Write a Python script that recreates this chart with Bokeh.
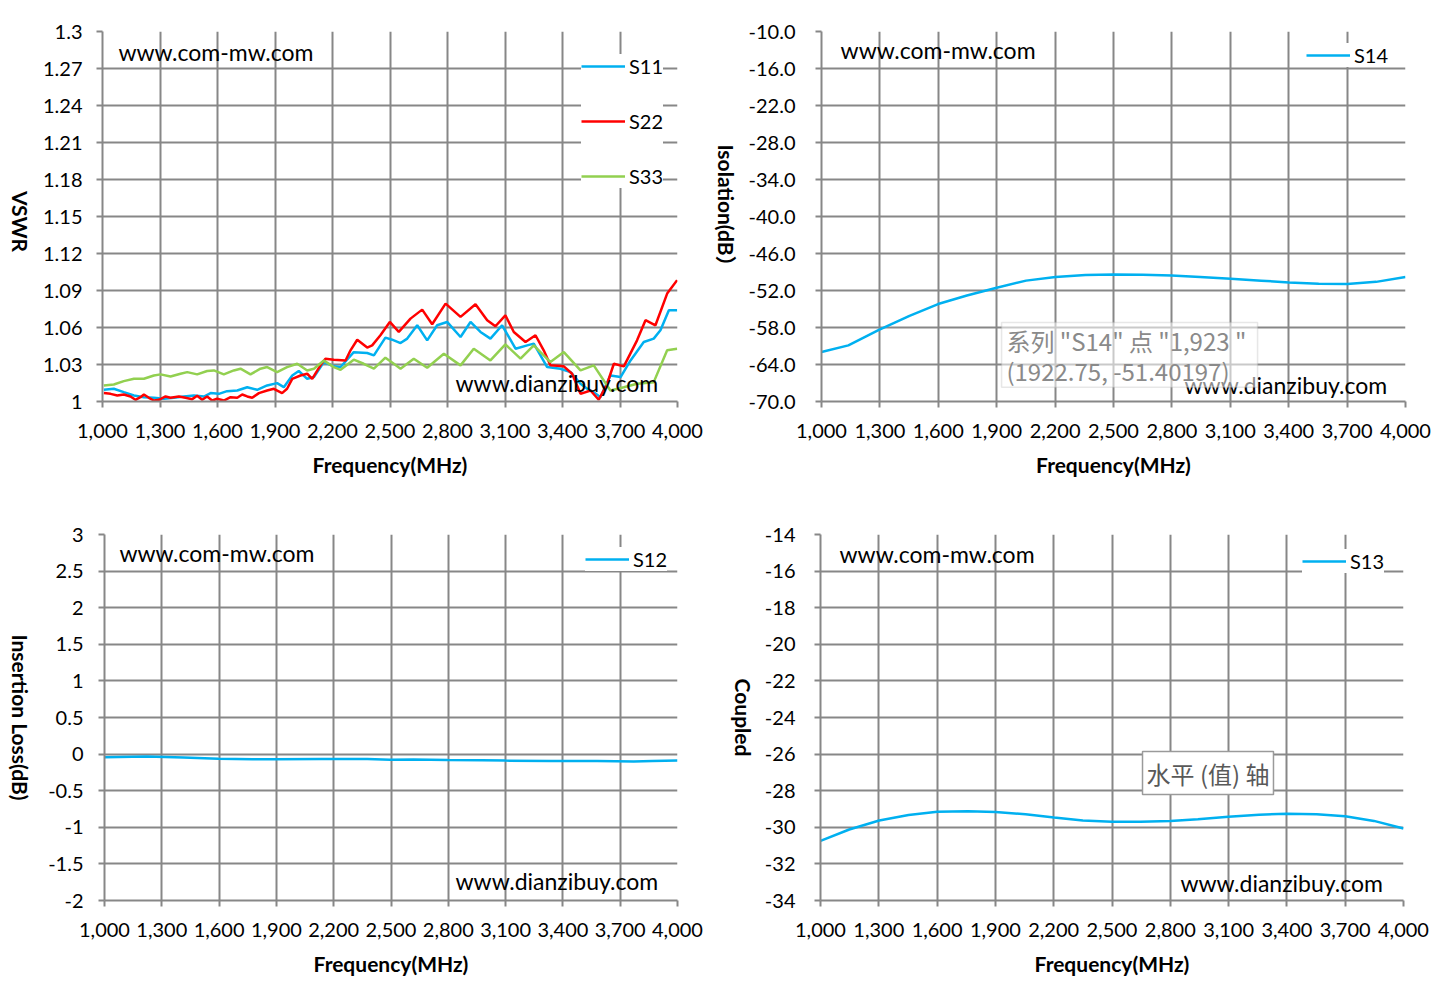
import math
from bokeh.plotting import figure
from bokeh.models import (FixedTicker, NumeralTickFormatter, PrintfTickFormatter,
                          Legend, LegendItem, Label, Range1d, BoxAnnotation)
from bokeh.layouts import column, row
from bokeh.embed import file_html
from bokeh.resources import INLINE

# ---------------- data ----------------
x_ticks = [1000, 1300, 1600, 1900, 2200, 2500, 2800, 3100, 3400, 3700, 4000]

s11_freq = [1007, 1059, 1111, 1164, 1216, 1268, 1320, 1372, 1424, 1477, 1529, 1564, 1607, 1650, 1703,
            1755, 1807, 1859, 1911, 1946, 1990, 2024, 2068, 2103, 2155, 2207, 2242, 2311, 2381, 2416,
            2476, 2511, 2555, 2590, 2642, 2694, 2746, 2798, 2868, 2920, 2972, 3024, 3085, 3155, 3216,
            3250, 3320, 3389, 3442, 3494, 3529, 3563, 3598, 3650, 3703, 3755, 3824, 3876, 3911, 3955, 3998]
s11_vswr = [1.0095, 1.0103, 1.0076, 1.0049, 1.0035, 1.003, 1.0022, 1.003, 1.004, 1.0049, 1.004, 1.0068,
            1.0062, 1.0084, 1.0089, 1.0116, 1.0095, 1.013, 1.0149, 1.0116, 1.0211, 1.0247, 1.0184, 1.0198,
            1.032, 1.0285, 1.028, 1.040, 1.0393, 1.0374, 1.0518, 1.0501, 1.0474, 1.051, 1.0618, 1.0496,
            1.0618, 1.0645, 1.0523, 1.0645, 1.0564, 1.051, 1.0618, 1.0428, 1.0455, 1.0469, 1.0279, 1.0266,
            1.0238, 1.0144, 1.0103, 1.0076, 1.0035, 1.0211, 1.0198, 1.0333, 1.0482, 1.051, 1.0577, 1.074, 1.074]

s22_freq = [1007, 1042, 1077, 1111, 1146, 1172, 1198, 1216, 1242, 1268, 1294, 1329, 1355, 1398, 1433,
            1468, 1494, 1520, 1546, 1572, 1598, 1633, 1668, 1703, 1729, 1755, 1781, 1816, 1859, 1894,
            1937, 1963, 1990, 2033, 2068, 2094, 2137, 2163, 2207, 2268, 2294, 2329, 2381, 2407, 2450,
            2499, 2546, 2607, 2668, 2720, 2790, 2868, 2946, 3007, 3050, 3102, 3146, 3207, 3259, 3302,
            3337, 3407, 3450, 3494, 3546, 3589, 3633, 3668, 3720, 3789, 3833, 3885, 3946, 3998]
s22_vswr = [1.0068, 1.0062, 1.0049, 1.0057, 1.0041, 1.0014, 1.0035, 1.0057, 1.003, 1.0008, 1.0014, 1.0041,
            1.003, 1.0041, 1.003, 1.0019, 1.0046, 1.0014, 1.0041, 1.0008, 1.0022, 1.0008, 1.0035, 1.003,
            1.0057, 1.0041, 1.003, 1.0068, 1.0089, 1.0103, 1.0068, 1.0103, 1.0184, 1.0211, 1.0225, 1.0184,
            1.0293, 1.0347, 1.0339, 1.0333, 1.0415, 1.0501, 1.0437, 1.0455, 1.0537, 1.0645, 1.0564, 1.0672,
            1.0745, 1.0626, 1.0794, 1.0686, 1.0789, 1.0659, 1.061, 1.0699, 1.0564, 1.0482, 1.0537, 1.0415,
            1.0293, 1.0285, 1.0225, 1.0062, 1.0089, 1.0014, 1.0144, 1.0306, 1.0285, 1.0496, 1.0659, 1.0618,
            1.0875, 1.0984]

s33_freq = [1007, 1059, 1111, 1164, 1216, 1268, 1303, 1355, 1407, 1442, 1494, 1546, 1581, 1633, 1685,
            1720, 1772, 1824, 1859, 1911, 1963, 2016, 2068, 2103, 2155, 2207, 2242, 2311, 2363, 2416,
            2476, 2520, 2555, 2624, 2694, 2781, 2868, 2937, 3024, 3102, 3181, 3250, 3337, 3407, 3494,
            3563, 3650, 3720, 3789, 3876, 3946, 3998]
s33_vswr = [1.013, 1.0138, 1.0165, 1.0184, 1.0184, 1.0211, 1.022, 1.0203, 1.0225, 1.0238, 1.022, 1.0247,
            1.0252, 1.022, 1.0252, 1.0266, 1.022, 1.0266, 1.0279, 1.0238, 1.0279, 1.0306, 1.0252, 1.0266,
            1.0333, 1.0279, 1.0257, 1.0339, 1.0306, 1.0266, 1.0355, 1.0306, 1.0266, 1.0347, 1.0274, 1.0387,
            1.0293, 1.0428, 1.0333, 1.0463, 1.0347, 1.0455, 1.032, 1.0401, 1.0252, 1.0293, 1.0089, 1.0116,
            1.0144, 1.0157, 1.0415, 1.0428]

s14_freq = [1000, 1138, 1295, 1452, 1599, 1747, 1900, 2051, 2202, 2356, 2499, 2650, 2798, 2945, 3102,
            3259, 3401, 3554, 3701, 3849, 4000]
s14_db = [-61.98, -60.9, -58.4, -56.1, -54.2, -52.8, -51.55, -50.4, -49.8, -49.5, -49.4, -49.45, -49.55,
          -49.8, -50.1, -50.4, -50.7, -50.9, -50.96, -50.6, -49.8]

s12_freq = [1000, 1221, 1414, 1597, 1775, 1895, 2135, 2376, 2496, 2617, 2797, 2977, 3098, 3338, 3579,
            3771, 3868, 4000]
s12_db = [-0.044, -0.033, -0.048, -0.063, -0.07, -0.07, -0.067, -0.067, -0.078, -0.074, -0.081, -0.085,
          -0.089, -0.093, -0.093, -0.1, -0.093, -0.089]

s13_freq = [1000, 1148, 1302, 1453, 1601, 1759, 1901, 2055, 2202, 2350, 2500, 2646, 2800, 2942, 3099,
            3257, 3399, 3553, 3700, 3848, 4000]
s13_db = [-30.74, -30.12, -29.63, -29.33, -29.15, -29.12, -29.17, -29.29, -29.47, -29.63, -29.70, -29.70,
          -29.65, -29.56, -29.43, -29.31, -29.26, -29.29, -29.40, -29.65, -30.07]

vswr_ticks = [1.0, 1.03, 1.06, 1.09, 1.12, 1.15, 1.18, 1.21, 1.24, 1.27, 1.3]
iso_ticks = [-70.0, -64.0, -58.0, -52.0, -46.0, -40.0, -34.0, -28.0, -22.0, -16.0, -10.0]
il_ticks = [-2, -1.5, -1, -0.5, 0, 0.5, 1, 1.5, 2, 2.5, 3]
cpl_ticks = [-34, -32, -30, -28, -26, -24, -22, -20, -18, -16, -14]

BLUE = "#00B0F0"
RED = "#FF0000"
GREEN = "#92D050"
GRID = "#878787"
FONT = "Lato"


def make_fig(fw, fh, bl, br, bt, bb, yticks, yfmt, ystandoff):
    p = figure(frame_width=fw, frame_height=fh, min_border_left=bl, min_border_right=br,
               min_border_top=bt, min_border_bottom=bb,
               x_range=Range1d(x_ticks[0], x_ticks[-1]), y_range=Range1d(yticks[0], yticks[-1]),
               output_backend="svg", toolbar_location=None)
    p.outline_line_color = None
    p.background_fill_color = "white"
    p.border_fill_color = "white"
    for ax in (p.xaxis[0], p.yaxis[0]):
        ax.axis_line_color = GRID
        ax.axis_line_width = 2
        ax.major_tick_line_color = GRID
        ax.major_tick_line_width = 2
        ax.major_tick_out = 6
        ax.major_tick_in = 0
        ax.minor_tick_line_color = None
        ax.major_label_text_font = FONT
        ax.major_label_text_font_size = "20px"
        ax.major_label_text_color = "#000000"
        ax.axis_label_text_font = FONT
        ax.axis_label_text_font_size = "21px"
        ax.axis_label_text_font_style = "bold"
        ax.axis_label_text_color = "#000000"
    p.xaxis.ticker = FixedTicker(ticks=x_ticks)
    p.xaxis.formatter = NumeralTickFormatter(format="0,0")
    p.xaxis.axis_label = "Frequency(MHz)"
    p.xaxis.major_label_standoff = 16
    p.xaxis.axis_label_standoff = 11
    p.yaxis.ticker = FixedTicker(ticks=yticks)
    p.yaxis.formatter = PrintfTickFormatter(format=yfmt)
    p.yaxis.major_label_standoff = ystandoff
    p.xgrid.ticker = FixedTicker(ticks=x_ticks)
    p.ygrid.ticker = FixedTicker(ticks=yticks)
    for g in (p.xgrid[0], p.ygrid[0]):
        g.grid_line_color = GRID
        g.grid_line_width = 2
    return p


def title_strip(w, fh, bt, bb, x, y, txt):
    # narrow strip that carries a vertical axis title reading top-to-bottom
    t = figure(frame_width=w, frame_height=fh, min_border_left=0, min_border_right=0,
               min_border_top=bt, min_border_bottom=bb,
               x_range=Range1d(0, w), y_range=Range1d(0, fh),
               x_axis_location=None, y_axis_location=None,
               output_backend="svg", toolbar_location=None)
    t.outline_line_color = None
    t.grid.visible = False
    t.border_fill_color = "white"
    t.add_layout(Label(x=x, y=y, text=txt, angle=-math.pi / 2,
                       text_font=FONT + ", 'Noto Sans CJK SC'", text_font_size="21px",
                       text_font_style="bold", text_color="#000000",
                       text_align="center", text_baseline="middle"))
    return t


def add_legend(p, items, loc, spacing):
    leg = Legend(items=items, location=loc, margin=0, padding=0, spacing=spacing,
                 glyph_width=44, glyph_height=20, label_height=20, label_standoff=4,
                 label_text_font=FONT, label_text_font_size="20px", label_text_color="#000000",
                 border_line_color=None, background_fill_color="white", background_fill_alpha=1.0)
    p.add_layout(leg)


def add_text(p, x, y, txt):
    p.add_layout(Label(x=x, y=y, text=txt, text_font=FONT, text_font_size="23px",
                       text_baseline="middle", text_align="left", text_color="#000000"))


# ---------------- top-left: VSWR ----------------
t1 = title_strip(38, 370, 31, 97, 20, 180, "VSWR")
p1 = make_fig(575, 370, 64, 26, 31, 97, vswr_ticks, "%g", 14)
r11 = p1.line(s11_freq, s11_vswr, line_color=BLUE, line_width=2.5)
r22 = p1.line(s22_freq, s22_vswr, line_color=RED, line_width=2.5)
r33 = p1.line(s33_freq, s33_vswr, line_color=GREEN, line_width=2.5)
add_legend(p1, [LegendItem(label="S11", renderers=[r11]), LegendItem(label="S22", renderers=[r22]),
                LegendItem(label="S33", renderers=[r33])], (479, 213), 31)
add_text(p1, 1083, 1.2837, "www.com-mw.com")
add_text(p1, 2842, 1.0146, "www.dianzibuy.com")

# ---------------- top-right: Isolation ----------------
t2 = title_strip(42, 370, 31, 97, 23, 191, "Isolation(dB）")
p2 = make_fig(584, 370, 74, 29, 31, 97, iso_ticks, "%.1f", 20)
r14 = p2.line(s14_freq, s14_db, line_color=BLUE, line_width=2.5)
add_legend(p2, [LegendItem(label="S14", renderers=[r14])], (485, 334), 0)
add_text(p2, 1098, -13.07, "www.com-mw.com")
add_text(p2, 2865, -67.25, "www.dianzibuy.com")
p2.add_layout(BoxAnnotation(left=1925, right=3240, top=-57.2, bottom=-67.7,
                            fill_color="white", fill_alpha=0.55,
                            line_color="#b0b0b0", line_width=1.5))
p2.add_layout(Label(x=1950, y=-60.13, text='系列 "S14" 点 "1,923 "',
                    text_font="Noto Sans CJK SC", text_font_size="24px", text_color="#8a8a8a",
                    text_align="left", text_baseline="middle"))
p2.add_layout(Label(x=1950, y=-64.99, text="(1922.75, -51.40197)",
                    text_font="Noto Sans CJK SC", text_font_size="24px", text_color="#8a8a8a",
                    text_align="left", text_baseline="middle"))

# ---------------- bottom-left: Insertion loss ----------------
t3 = title_strip(38, 366, 36, 87, 20, 183, "Insertion Loss(dB)")
p3 = make_fig(573, 366, 66, 26, 36, 87, il_ticks, "%g", 15)
r12 = p3.line(s12_freq, s12_db, line_color=BLUE, line_width=2.5)
add_legend(p3, [LegendItem(label="S12", renderers=[r12])], (481, 329), 0)
add_text(p3, 1078, 2.754, "www.com-mw.com")
add_text(p3, 2838, -1.74, "www.dianzibuy.com")

# ---------------- bottom-right: Coupled ----------------
t4 = title_strip(58, 366, 36, 87, 40, 183, "Coupled")
p4 = make_fig(583, 366, 59, 29, 36, 87, cpl_ticks, "%g", 19)
r13 = p4.line(s13_freq, s13_db, line_color=BLUE, line_width=2.5)
add_legend(p4, [LegendItem(label="S13", renderers=[r13])], (482, 327), 0)
add_text(p4, 1098, -15.04, "www.com-mw.com")
add_text(p4, 2852, -33.02, "www.dianzibuy.com")
p4.add_layout(Label(x=2657, y=-25.86, text="水平 (值) 轴",
                    text_font="Noto Sans CJK SC", text_font_size="24px", text_color="#595959",
                    text_align="left", text_baseline="top", padding=4,
                    background_fill_color="white", background_fill_alpha=1.0,
                    border_line_color="#9a9a9a", border_line_width=1.5))

layout = column(row(t1, p1, t2, p2), row(t3, p3, t4, p4))
open("out.html", "w").write(file_html(layout, INLINE))
